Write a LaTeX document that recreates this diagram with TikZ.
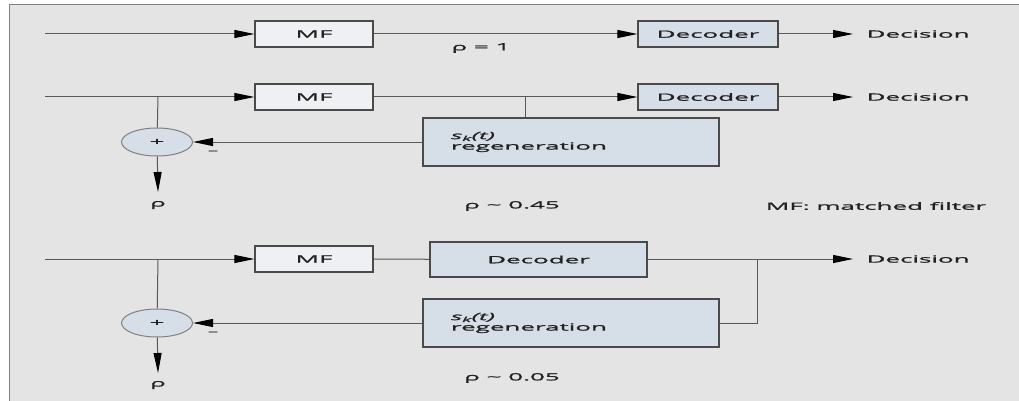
\documentclass[tikz,border=0pt]{standalone}
\usepackage{fontspec}
\newfontfamily\figfont[FakeStretch=2.6,FakeBold=1.5]{Open Sans}
\usetikzlibrary{arrows.meta,shapes.geometric}
\definecolor{panel}{HTML}{E4E4E4}
\definecolor{mffill}{HTML}{EEF0F4}
\definecolor{blkfill}{HTML}{D6DEE8}
\definecolor{wiregray}{HTML}{595959}
\definecolor{bordergray}{HTML}{4A4A4A}
\definecolor{ink}{HTML}{222222}

\begin{document}
\begin{tikzpicture}[x=1pt,y=-1pt,font=\figfont\fontsize{10}{10.5}\selectfont,
    every node/.style={text=ink},
    mfbox/.style={draw=bordergray,line width=1.2pt,fill=mffill,
      minimum width=118pt,minimum height=26pt,inner sep=0pt},
    decbox/.style={draw=bordergray,line width=1.2pt,fill=blkfill,
      minimum width=140pt,minimum height=26pt,inner sep=0pt},
    regenbox/.style={draw=bordergray,line width=1.2pt,fill=blkfill,
      minimum height=48pt,text width=240pt,inner xsep=28pt,inner ysep=0pt,
      align=left},
    sum/.style={draw=gray,line width=1pt,fill=blkfill,ellipse,
      minimum width=71pt,minimum height=28pt,inner sep=0pt},
    wire/.style={draw=wiregray,line width=1pt},
    >={Triangle[length=20pt,width=8pt,color=black]}]
  \fill[white] (0,0) rectangle (1019,401);
  \useasboundingbox (0,0) rectangle (1019,401);
  \fill[panel] (9.5,4.5) rectangle (1019,401);
  \draw[draw=gray,line width=1.5pt] (9.5,401) -- (9.5,4.5) -- (1019,4.5);

  \foreach \r/\y in {1/34,2/97,3/259} {
    \coordinate (in\r) at (45,\y);
    \coordinate (out\r) at (853,\y);
    \node[mfbox] (mf\r) at (314,\y) {MF};
    \node[anchor=west] (dn\r) at (863,\y) {Decision};
    \draw[wire,->] (in\r)--(mf\r);
  }

  \node[decbox] (dec1) at (708,34) {Decoder};
  \draw[wire,->] (mf1)--(dec1);
  \draw[wire,->] (dec1)--(out1);
  \node (rho1) at (481,48) {ρ = 1};

  \node[decbox] (dec2) at (708,97) {Decoder};
  \node[regenbox] (regen2) at (571,142)
    {{\itshape s\textsubscript{k}(t)}\\regeneration};
  \node[sum] (sum2) at (157,142) {+};
  \coordinate (j2) at (158,97);
  \coordinate (t2) at (525,97);
  \coordinate (r2) at (158,192);
  \draw[wire,->] (mf2)--(dec2);
  \draw[wire,->] (dec2)--(out2);
  \draw[wire] (t2)--(t2 |- regen2.north);
  \draw[wire] (j2)--(sum2);
  \draw[wire,->] (regen2.west)--(sum2.east);
  \draw[wire,->] (sum2)--(r2);
  \node (m2) at (213,152) {\fontsize{8}{8}\selectfont –};
  \node (p2) at (158,205) {ρ};
  \node (rho2) at (512,206) {ρ \textasciitilde\ 0.45};
  \node (key) at (876,206) {MF: matched filter};

  \node[decbox,minimum width=217pt,minimum height=35pt] (dec3) at (538.5,259.5) {Decoder};
  \node[regenbox] (regen3) at (571,323)
    {{\itshape s\textsubscript{k}(t)}\\regeneration};
  \node[sum] (sum3) at (157,323) {+};
  \coordinate (j3) at (158,259);
  \coordinate (k3) at (757,259);
  \coordinate (r3) at (158,373);
  \draw[wire] (mf3)--(dec3);
  \draw[wire,->] (dec3.east |- out3)--(out3);
  \draw[wire] (k3) |- (regen3.east);
  \draw[wire] (j3)--(sum3);
  \draw[wire,->] (regen3.west)--(sum3.east);
  \draw[wire,->] (sum3)--(r3);
  \node (m3) at (213,333) {\fontsize{8}{8}\selectfont –};
  \node (p3) at (158,385) {ρ};
  \node (rho3) at (512,378) {ρ \textasciitilde\ 0.05};
\end{tikzpicture}
\end{document}
